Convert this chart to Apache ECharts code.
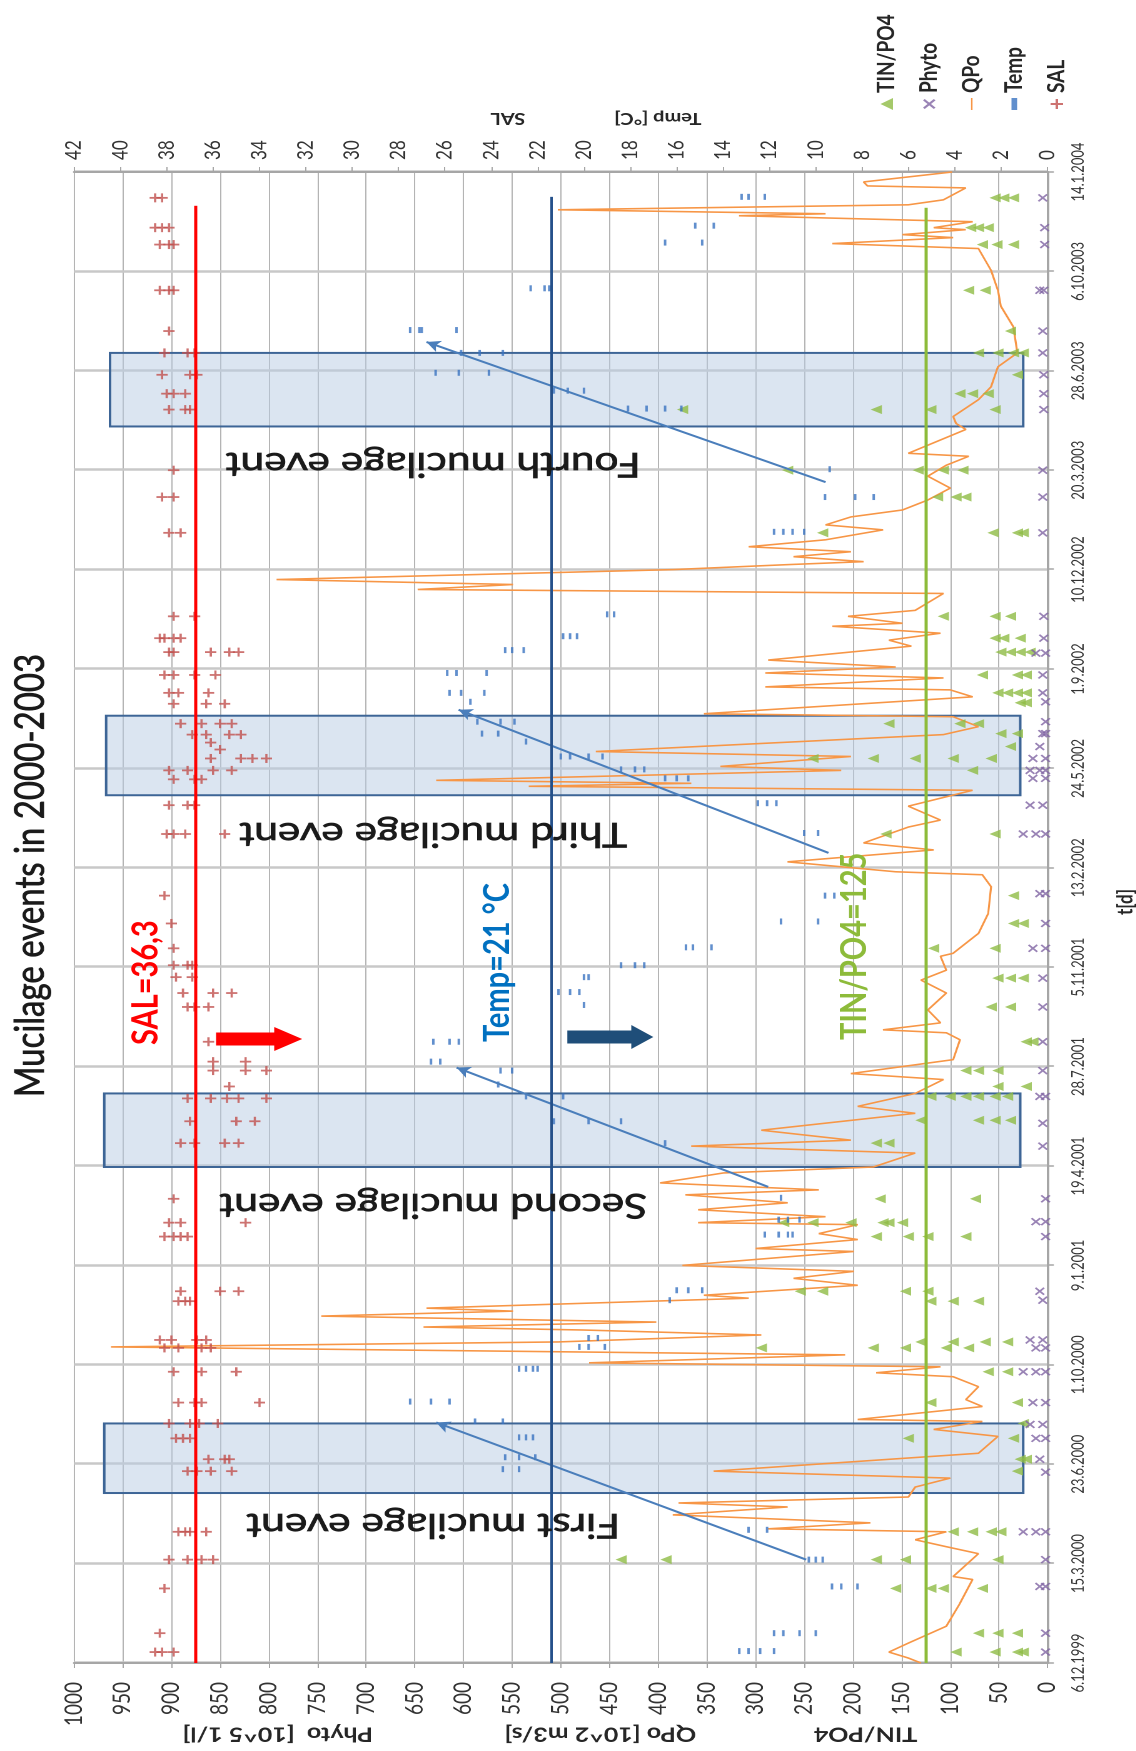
<!DOCTYPE html>
<html>
<head>
<meta charset="utf-8">
<script src="https://cdn.jsdelivr.net/npm/echarts@6/dist/echarts.min.js"></script>
<style>
html,body{margin:0;padding:0;background:#fff;width:1136px;height:1751px;overflow:hidden;}
#wrap{position:absolute;left:0;top:0;transform-origin:0 0;}
</style>
</head>
<body>
<div id="wrap"></div>
<script>
// ---- data (x = days since 6.12.1999) ----
const tickDates = ['6.12.1999','15.3.2000','23.6.2000','1.10.2000','9.1.2001','19.4.2001','28.7.2001','5.11.2001','13.2.2002','24.5.2002','1.9.2002','10.12.2002','20.3.2003','28.6.2003','6.10.2003','14.1.2004'];

const qpo = [[0,130],[5,143],[11,163],[20,143],[37,104],[60,90],[84,77],[87,97],[110,71],[117,104],[124,136],[132,104],[135,287],[141,182],[149,385],[157,267],[161,379],[167,143],[177,136],[186,100],[193,343],[211,71],[228,51],[235,117],[243,67],[245,195],[258,67],[265,84],[278,71],[288,97],[292,176],[298,110],[302,471],[310,208],[318,962],[323,503],[330,294],[335,477],[338,641],[343,402],[349,746],[354,549],[357,638],[367,307],[370,353],[380,195],[387,261],[394,199],[400,375],[414,199],[417,300],[426,195],[432,235],[441,195],[443,359],[449,228],[456,359],[463,267],[471,372],[476,235],[483,398],[493,333],[499,179],[513,136],[520,366],[526,202],[536,294],[553,136],[560,195],[573,136],[587,107],[593,202],[607,97],[627,90],[634,104],[637,169],[644,110],[657,123],[674,104],[687,130],[697,104],[711,110],[714,97],[734,71],[754,61],[781,58],[793,67],[796,156],[806,267],[818,117],[825,189],[841,143],[848,110],[862,143],[878,77],[882,533],[885,366],[888,628],[898,212],[902,336],[912,202],[917,464],[934,107],[942,71],[952,97],[955,353],[972,77],[979,100],[982,290],[991,107],[996,290],[1002,156],[1009,287],[1023,140],[1029,163],[1036,110],[1043,221],[1046,149],[1053,205],[1059,136],[1076,107],[1080,647],[1085,549],[1090,792],[1100,385],[1105,267],[1108,189],[1113,261],[1118,202],[1123,307],[1130,228],[1140,169],[1145,228],[1153,202],[1160,149],[1170,123],[1182,100],[1194,123],[1205,104],[1214,81],[1217,143],[1241,84],[1247,94],[1254,97],[1271,71],[1284,58],[1304,51],[1318,31],[1344,35],[1365,48],[1381,51],[1401,58],[1423,71],[1428,221],[1434,97],[1437,149],[1442,84],[1444,117],[1450,77],[1456,317],[1458,228],[1462,503],[1467,143],[1472,107],[1484,84],[1486,185],[1490,189],[1500,98]];

const tinpo4 = [[11,[94,54,31,25]],[30,[71,51,31]],[75,[156,120,107,67]],[104,[438,392,176,146,51]],[132,[97,77,58,48]],[193,[31]],[205,[28,22]],[226,[143,35]],[241,[25]],[262,[120,31]],[293,[61,41]],[317,[294,179,146,104,81]],[323,[130,97,64,41]],[364,[120,97,71]],[374,[254,231,146,123]],[429,[176,143,123,84]],[443,[271,241,202,169,163,149]],[467,[172,74]],[523,[176,163]],[546,[130,71,54,38]],[570,[120,100,84,71,54,41]],[580,[51,22]],[596,[84,71,51]],[625,[22,15]],[660,[58,38]],[689,[51,38,25]],[719,[117,54]],[744,[35,25]],[772,[35]],[834,[166,54]],[898,[77]],[910,[241,179,136,97,58]],[922,[38]],[935,[48,31]],[945,[163,90,71]],[966,[28,22]],[976,[51,41,31,22]],[994,[67,31,22]],[1017,[48,38,28,18]],[1031,[54,45,28]],[1053,[107,54,38]],[1137,[231,56,31,25]],[1173,[113,94,84]],[1200,[267,133,107,87]],[1261,[375,176,120,54]],[1277,[90,77,61]],[1296,[31]],[1318,[71,51,35,25]],[1340,[38]],[1381,[81,64]],[1427,[67,52,35]],[1444,[79,71,61]],[1474,[54,45,35]]];

const phyto = [[11,[2]],[30,[2]],[77,[8,2]],[104,[2]],[132,[25,12,2]],[192,[2]],[205,[8]],[226,[12,2]],[240,[18,5]],[262,[15,2]],[293,[25,12,2]],[317,[12,2]],[325,[18,5]],[365,[5]],[374,[8]],[429,[2]],[444,[12,2]],[467,[2]],[520,[5]],[543,[5]],[570,[8,2]],[596,[5]],[625,[5]],[660,[5]],[689,[5]],[719,[15,2]],[744,[2]],[774,[8,2]],[834,[25,12,2]],[863,[18,5]],[890,[15,2]],[898,[18,8,2]],[910,[15,2]],[922,[8]],[935,[5,2]],[947,[2]],[967,[2]],[976,[5]],[994,[5]],[1016,[12,2]],[1031,[4]],[1053,[4]],[1137,[5]],[1173,[5]],[1200,[5]],[1261,[4]],[1277,[4]],[1296,[4]],[1318,[5]],[1340,[5]],[1381,[8,4]],[1427,[3]],[1444,[3]],[1474,[5]]];

const temp = [[12,[13.3,12.9,12.4,11.8]],[30,[11.8,11.4,10.7,10.0]],[77,[9.3,8.9,8.2]],[104,[10.3,10.0,9.7]],[134,[12.9,12.1]],[195,[23.5,22.8]],[207,[23.4,22.8,22.1]],[227,[22.8,22.5,22.2]],[243,[24.7,23.5]],[263,[27.5,26.6,25.8]],[296,[22.8,22.5,22.2,22.0]],[318,[20.2,19.8,19.1]],[327,[19.8,19.4]],[365,[16.3]],[375,[16.0,15.5,14.9]],[431,[12.2,11.6,11.2,11.0]],[446,[11.6,11.2,10.7]],[468,[11.5]],[523,[16.5]],[545,[21.3,19.8,18.4]],[570,[22.5,20.9]],[582,[23.7]],[596,[23.6,23.1]],[605,[26.6,26.2]],[625,[26.5,25.8,25.4]],[662,[20.0]],[675,[21.1,20.6,20.2]],[690,[20.0,19.8]],[702,[18.4,17.8,17.4]],[720,[15.6,15.3,14.5]],[746,[11.5,9.9]],[772,[9.6,9.2]],[835,[10.5,9.9]],[865,[12.5,12.1,11.7]],[890,[16.5,16.0,15.5]],[899,[18.4,17.8,17.4]],[912,[21.0,20.6,19.8,19.2]],[927,[22.5]],[935,[24.4,23.7]],[947,[24.6,23.6,23.0]],[967,[24.9]],[976,[25.8,25.3,24.3]],[996,[25.9,25.5,24.2]],[1019,[23.4,23.1,22.6]],[1033,[20.9,20.6,20.3]],[1055,[19.0,18.7]],[1138,[11.8,11.4,11.0,10.5]],[1173,[9.6,8.3,7.5]],[1201,[9.4]],[1262,[18.1,17.3,16.5,15.8]],[1280,[21.3,20.7,20.0]],[1298,[26.4,25.4,24.1]],[1318,[25.3,24.5,23.5]],[1341,[27.5,27.1,27.0,25.5]],[1383,[22.3,21.7,21.5]],[1429,[16.5,14.9]],[1446,[15.2,14.4]],[1475,[13.2,12.9,12.2]]];

const sal = [[11,[38.5,38.2,37.7]],[30,[38.3]],[75,[38.1]],[104,[37.9,37.1,36.5,36.0]],[132,[37.5,37.2,37.0,36.3]],[193,[37.1,36.7,36.1,35.2]],[205,[36.2,35.5,35.3]],[226,[37.6,37.3,37.0]],[241,[37.9,37.0,36.6,35.8]],[262,[37.5,36.8,36.5,34.0]],[293,[37.7,36.5,35.0]],[317,[38.1,37.5,36.5,36.1]],[325,[38.3,37.8,36.7,36.3]],[364,[37.5,37.2,37.0]],[374,[37.4,35.7,34.9]],[429,[38.1,37.7,37.4,37.1]],[443,[37.9,37.4,34.6]],[467,[37.7]],[523,[37.4,36.8,35.5,34.9]],[545,[37.0,35.0,34.2]],[568,[37.1,36.1,35.4,34.9,33.7]],[580,[35.3]],[596,[36.0,34.6,33.7]],[605,[36.0,34.6]],[625,[36.2]],[660,[37.1,36.8,36.2]],[674,[37.3,36.0,35.2]],[690,[37.6,36.9]],[702,[37.7,37.1,36.9]],[719,[37.7]],[744,[37.8]],[772,[38.1]],[834,[38.0,37.7,37.2,35.5]],[863,[37.9,37.1,36.8]],[889,[37.7,36.8,36.5]],[898,[37.9,37.1,36.0,35.2]],[910,[36.1,34.8,34.3,33.7]],[919,[35.7]],[926,[36.1]],[934,[36.9,36.3,35.3,34.8]],[945,[37.4,36.5,35.7,35.2]],[965,[37.7,36.3,35.5]],[976,[37.9,37.5,36.2]],[994,[38.1,37.7,36.8,35.9]],[1017,[37.9,37.7,36.1,35.3,34.9]],[1031,[38.3,38.1,37.7,37.4]],[1053,[37.7,36.8]],[1137,[37.9,37.4]],[1173,[38.2,37.7]],[1200,[37.7]],[1261,[37.9,37.2,37.0]],[1277,[38.0,37.7,37.2]],[1296,[38.2,37.0,36.7]],[1318,[38.1,37.1,36.8]],[1340,[37.9]],[1381,[38.3,37.9,37.7]],[1427,[38.3,37.9,37.7]],[1444,[38.5,38.2,37.9]],[1474,[38.5,38.2]]];

// event boxes [startDay, endDay, low, high] and arrows [fromDay, fromVal, toDay, toVal]
const eventBoxes = [[171,241,25,969],[499,573,28,969],[873,953,28,967],[1244,1318,25,963]];
const eventArrows = [[104,248,242,628],[479,287,599,607],[815,225,959,605],[1188,228,1329,638]];
const eventNames = ['First mucilage event','Second mucilage event','Third mucilage event','Fourth mucilage event'];
const refSAL = 36.74, refTemp = 21.41, refTIN = 125;

// ---- layout (chart drawn unrotated, then rotated by CSS) ----
const S = 1.25, W = 1751, H = 1136 / S;
const wrap = document.getElementById('wrap');
wrap.style.width = W + 'px';
wrap.style.height = H + 'px';
wrap.style.transform = 'translate(0px,1751px) rotate(-90deg) scale(1,' + S + ')';

function flat(arr){ const o=[]; arr.forEach(r=>r[1].forEach(v=>o.push([r[0],v]))); return o; }
function fmt(d){ return tickDates[Math.round(d/100)] || ''; }

const FONT = 'Lato, "Open Sans", sans-serif';
const xMark = 'path://M0,1.4L1.4,0L5,3.6L8.6,0L10,1.4L6.4,5L10,8.6L8.6,10L5,6.4L1.4,10L0,8.6L3.6,5Z';
const plus = 'path://M4,0H6V4H10V6H6V10H4V6H0V4H4Z';

const chart = echarts.init(wrap, null, {renderer:'canvas', width:W, height:H, devicePixelRatio:2});

const graphics = [];
const mx = [226, 546, 917, 1287];
eventNames.forEach((t,i)=>graphics.push({type:'text', x:mx[i], y:433/S, rotation:Math.PI/2, z:50,
  style:{text:t, fill:'#1a1a1a', stroke:'#1a1a1a', lineWidth:0.7, font:'34px '+FONT, align:'center', verticalAlign:'middle'}}));
graphics.push({type:'text', x:706, y:146/S, z:50, style:{text:'SAL=36,3', fill:'#ff0000', font:'bold 29px '+FONT, align:'left', verticalAlign:'middle'}});
graphics.push({type:'text', x:709, y:497/S, z:50, style:{text:'Temp=21 °C', fill:'#0070c0', font:'bold 29px '+FONT, align:'left', verticalAlign:'middle'}});
graphics.push({type:'text', x:711, y:854/S, z:50, style:{text:'TIN/PO4=125', fill:'#8dbb3a', font:'bold 29px '+FONT, align:'left', verticalAlign:'middle'}});
function blockArrow(cx, y0, y1, y2, color){
  return {type:'polygon', z:50, shape:{points:[[cx-6.5,y0],[cx+6.5,y0],[cx+6.5,y1],[cx+12,y1],[cx,y2],[cx-12,y1],[cx-6.5,y1]]}, style:{fill:color}};
}
graphics.push(blockArrow(712, 216/S, 274/S, 302/S, '#ff0000'));
graphics.push(blockArrow(714, 567/S, 631/S, 653/S, '#1f4e79'));
// axis titles
[['TIN/PO4',692],['QPo [10^2 m3/s]',480],['Phyto  [10^5 1/l]',222]].forEach(a=>graphics.push({type:'text', x:17, y:a[1], rotation:Math.PI/2,
  style:{text:a[0], fill:'#262626', font:'bold 20px '+FONT, align:'center', verticalAlign:'middle'}}));
[['SAL',406],['Temp [°C]',526]].forEach(a=>graphics.push({type:'text', x:1633, y:a[1], rotation:Math.PI/2,
  style:{text:a[0], fill:'#262626', font:'bold 16px '+FONT, align:'center', verticalAlign:'middle'}}));
graphics.push({type:'text', x:849, y:1125/S, style:{text:'t[d]', fill:'#262626', font:'bold 17px '+FONT, align:'center', verticalAlign:'middle'}});

const option = {
  animation:false,
  backgroundColor:'#ffffff',
  title:{text:'Mucilage events in 2000-2003', left:'center', top:8, padding:0,
    textStyle:{fontSize:33, fontWeight:'normal', fontFamily:FONT, color:'#1a1a1a', textBorderColor:'#1a1a1a', textBorderWidth:0.6}},
  legend:{orient:'vertical', left:1636, top:694, itemWidth:12, itemHeight:10, itemGap:14,
    textStyle:{fontSize:19, fontWeight:'bold', fontFamily:FONT, color:'#262626', lineHeight:20},
    data:[
      {name:'TIN/PO4', icon:'triangle'},
      {name:'Phyto', icon:xMark},
      {name:'QPo', icon:'path://M0,0H24V2.4H0Z'},
      {name:'Temp', icon:'path://M0,0H8V3H0Z'},
      {name:'SAL', icon:plus}
    ]},
  grid:{left:88, right:172, top:74/S, bottom:89/S},
  xAxis:{type:'value', min:0, max:1500, interval:100,
    axisLine:{show:true, lineStyle:{color:'#a6a6a6', width:2}},
    axisTick:{show:true, length:5, lineStyle:{color:'#a6a6a6', width:1.5}},
    axisLabel:{formatter:fmt, fontSize:13, fontFamily:FONT, color:'#333', margin:18, showMinLabel:true, showMaxLabel:true},
    splitLine:{show:true, lineStyle:{color:'#c8c8c8', width:2.5}}},
  yAxis:[
    {type:'value', position:'left', min:0, max:1000, interval:50,
      axisLine:{show:true, lineStyle:{color:'#a6a6a6', width:2}},
      axisTick:{show:true, length:5, lineStyle:{color:'#a6a6a6'}},
      axisLabel:{fontSize:19, fontFamily:FONT, color:'#333', margin:19, formatter:v=>String(v)},
      splitLine:{show:true, lineStyle:{color:'#b4b4b4', width:1}}},
    {type:'value', position:'right', min:0, max:42, interval:2,
      axisLine:{show:true, lineStyle:{color:'#a6a6a6', width:2}},
      axisTick:{show:true, length:5, lineStyle:{color:'#a6a6a6'}},
      axisLabel:{fontSize:17, fontFamily:FONT, color:'#333', margin:12, formatter:v=>String(v)},
      splitLine:{show:false}}
  ],
  graphic:graphics,
  series:[
    {name:'QPo', type:'line', yAxisIndex:0, data:qpo, symbol:'none', z:2,
      lineStyle:{color:'#f79646', width:1.6}, itemStyle:{color:'#f79646'},
      markArea:{silent:true, itemStyle:{color:'rgba(184,204,228,0.5)', borderColor:'#3d6596', borderWidth:2},
        data:eventBoxes.map(b=>[{coord:[b[0],b[3]]},{coord:[b[1],b[2]]}])},
      markLine:{silent:true, symbol:['none','arrow'], symbolSize:[9,11], label:{show:false},
        lineStyle:{color:'#4a7ebb', width:2, type:'solid'},
        data:eventArrows.map(a=>[{coord:[a[0],a[1]]},{coord:[a[2],a[3]]}])}},
    {name:'TIN/PO4', type:'scatter', yAxisIndex:0, data:flat(tinpo4), symbol:'triangle', symbolSize:9, z:3,
      itemStyle:{color:'#8fbc45'},
      markLine:{silent:true, symbol:['none','none'], label:{show:false}, lineStyle:{color:'#8dbb3a', width:2.5, type:'solid'},
        data:[[{coord:[0,refTIN]},{coord:[1464,refTIN]}]]}},
    {name:'Phyto', type:'scatter', yAxisIndex:0, data:flat(phyto), symbol:xMark, symbolSize:8, z:3,
      itemStyle:{color:'#8064a2'}},
    {name:'Temp', type:'scatter', yAxisIndex:1, data:flat(temp), symbol:'rect', symbolSize:[6,2], z:3,
      itemStyle:{color:'#3a73c0'},
      markLine:{silent:true, symbol:['none','none'], label:{show:false}, lineStyle:{color:'#24508a', width:2, type:'solid'},
        data:[[{coord:[0,refTemp]},{coord:[1475,refTemp]}]]}},
    {name:'SAL', type:'scatter', yAxisIndex:1, data:flat(sal), symbol:plus, symbolSize:9, z:3,
      itemStyle:{color:'#c0504d'},
      markLine:{silent:true, symbol:['none','none'], label:{show:false}, lineStyle:{color:'#ff0000', width:2.5, type:'solid'},
        data:[[{coord:[0,refSAL]},{coord:[1466,refSAL]}]]}}
  ]
};
chart.setOption(option);
</script>
</body>
</html>
